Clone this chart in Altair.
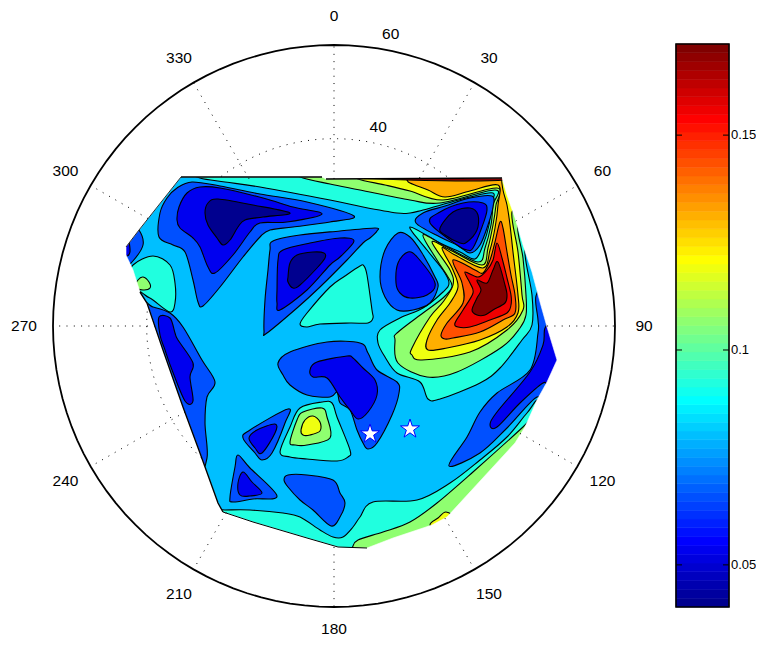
import altair as alt
import pandas as pd

# ---- polar grid -------------------------------------------------------
POLE = (334.0, 326.0)
UNIT = 281.0 / 60.0          # sheet units per radial unit
spoke_deg = [0, 30, 60, 90, 120, 150, 180, 210, 240, 270, 300, 330]
spoke_visible_from = [31.4, 36.5, 44.8, 45.5, 45.9, 47.4, 47.2, 46.0, 36.7, 38.2, 45.9, 36.3]
ring_arcs = [(-37, 37), (225, 276)]
outer_r = 60
angle_label_r = [66.2, 66.2, 66.2, 66.2, 66.2, 66.2, 64.8, 66.2, 66.2, 66.2, 66.2, 66.2]
radial_labels = [("40", 43.6, 12.5), ("60", 63.5, 11.0)]

# ---- colour bar -------------------------------------------------------
jet = ["#00008F","#00009F","#0000AF","#0000BF","#0000CF","#0000DF","#0000EF","#0000FF",
       "#0010FF","#0020FF","#0030FF","#0040FF","#0050FF","#0060FF","#0070FF","#0080FF",
       "#008FFF","#009FFF","#00AFFF","#00BFFF","#00CFFF","#00DFFF","#00EFFF","#00FFFF",
       "#10FFEF","#20FFDF","#30FFCF","#40FFBF","#50FFAF","#60FF9F","#70FF8F","#80FF80",
       "#8FFF70","#9FFF60","#AFFF50","#BFFF40","#CFFF30","#DFFF20","#EFFF10","#FFFF00",
       "#FFEF00","#FFDF00","#FFCF00","#FFBF00","#FFAF00","#FF9F00","#FF8F00","#FF8000",
       "#FF7000","#FF6000","#FF5000","#FF4000","#FF3000","#FF2000","#FF1000","#FF0000",
       "#EF0000","#DF0000","#CF0000","#BF0000","#AF0000","#9F0000","#8F0000","#800000"]
cb_min, cb_max = 0.0402, 0.1712
cb_ticks = [0.05, 0.1, 0.15]
cb_x = (676, 729)
cb_y = (607, 44)
cb_tick_len = 6

# ---- contour levels (value, colour) -----------------------------------
levels = [0.041, 0.053, 0.066, 0.080, 0.092, 0.107, 0.120, 0.132, 0.145, 0.157, 0.171]
level_colors = ["#00008F", "#0000EF", "#0050FF", "#00BFFF", "#20FFDF", "#8FFF70",
                "#EFFF10", "#FFAF00", "#FF5000", "#EF0000", "#800000"]

domain_outline = [(181,177),(322,177),(326,179),(502,178),(507,195),(515,218),(523,245),(532,272),(540,302),
    (547,327),(557,360),(547,382),(537,400),(525,427),(515,443),(447,517),(432,525),
    (393,538),(367,548),(350,548),(338,547),(307,538),(253,522),(223,512),(218,503),
    (200,453),(183,407),(163,350),(147,303),(140,292),(133,270),(126,255),(126,247),(139,230)]
sheet_rect = [(50,100),(620,100),(620,600),(50,600)]
edge_top_a = [(181,177),(322,177)]
edge_top_b = [(326,179),(502,178)]
edge_upper_left = [(126,247),(139,230),(181,177)]
edge_lower_left = [(140,292),(147,303),(163,350),(183,407),(200,453),(218,503),(223,512)]
edge_bottom = [(223,512),(253,522),(307,538),(338,547),(367,548)]

base_fill = [(110,160),(340,160),(575,160),(575,360),(575,565),(340,565),(110,565),(110,360)]

bottom_cyan = [(540,400),(550,430),(460,535),(350,565),(250,540),(205,525),(212,510),(225,510),(250,510),(283,513),
    (300,517),(320,530),(333,537),(343,537),(353,527),(360,517),(373,502),(417,500),(450,483),(480,460),(507,437),(527,413)]
bottom_green = [(352,548),(358,540),(383,532),(410,522),(437,503),(473,472),(523,427),(535,415),(545,430),(460,535),
    (400,555),(345,560)]
bottom_yellow = [(430,525),(438,518),(446,512),(455,520),(440,535)]

high_cyan = [(260,187),(225,182),(200,178),(185,170),(190,160),(525,160),(540,248),(525,250),(532,295),(532,325),
    (522,340),(500,368),(480,383),(440,399),(428,399),(420,382),(397,373),(385,357),(378,343),(380,330),(400,318),
    (423,308),(443,292),(449,283),(443,270),(427,250),(410,227),(440,243),(460,252),(475,259),(483,245),(489,225),
    (491,205),(493,193),(470,197),(423,210),(410,213),(397,213),(363,207),(330,200)]
high_green = [(360,190),(330,184),(303,178),(295,172),(300,160),(525,160),(535,222),(518,225),(523,258),(526,295),(526,315),
    (520,328),(502,347),(457,372),(427,377),(398,363),(395,340),(397,333),(423,313),(443,298),(452,287),(448,277),(437,260),(423,235),
    (445,246),(478,262),(485,248),(491,225),(493,205),(495,190),(440,203),(410,200)]
high_yellow = [(410,191),(385,185),(358,179),(350,172),(355,160),(525,160),(528,210),(512,212),(518,252),(522,295),(523,310),
    (507,330),(470,352),(422,360),(412,355),(412,348),(430,317),(443,302),(453,285),(450,270),(432,242),(452,251),(482,265),(488,248),
    (493,225),(496,205),(497,188),(443,200)]
high_orange = [(410,183),(407,180),(400,173),(405,160),(510,160),(502,175),(503,190),(507,205),(510,225),(513,252),(518,295),(518,313),
    (507,327),(480,340),(447,348),(428,350),(427,340),(437,320),(450,303),(458,287),(453,270),(442,248),(455,255),(483,268),(490,250),(495,228),(498,205),
    (498,185),(470,191),(445,197),(428,190)]
high_5000 = [(441,335),(447,323),(463,303),(462,283),(453,260),(475,270),(483,273),(490,260),(495,242),(500,222),
    (503,228),(507,252),(511,275),(515,295),(515,313),(503,320),(480,332),(453,338),(445,339)]
high_red = [(455,323),(463,310),(473,293),(470,283),(465,272),(478,277),(487,270),(493,260),(497,243),(502,258),
    (507,278),(511,295),(511,305),(507,313),(490,320),(470,327),(458,327)]
high_darkred = [(472,310),(477,298),(481,290),(477,280),(487,283),(493,270),(498,262),(505,285),(507,295),(505,303),
    (493,310),(485,315),(477,315)]
top_sliver = [(326,175),(505,172),(505,180),(408,180)]

hole_mid = [(416,223),(423,213),(445,206),(470,198),(492,196),(493,207),(488,225),(480,245),(470,253),(457,245),(440,237)]
hole_blue = [(430,223),(440,212),(463,203),(483,203),(487,210),(482,227),(473,248),(467,250),(457,245)]
hole_navy = [(440,228),(453,212),(470,208),(478,215),(477,230),(467,242),(460,243),(445,235)]

tl_mid = [(159,237),(160,213),(167,198),(177,188),(192,182),(220,186),(260,194),(307,202),(354,216),(330,222),(293,227),
    (270,230),(260,237),(243,257),(220,287),(203,306),(198,302),(193,280),(185,252),(173,245)]
tl_blue = [(177,220),(179,207),(187,193),(200,187),(220,188),(263,198),(293,207),(322,214),(287,222),(260,223),(250,232),
    (233,255),(215,273),(208,267),(200,247),(193,238),(180,228)]
tl_navy = [(205,213),(208,203),(218,199),(253,205),(290,213),(263,217),(245,220),(238,227),(230,240),(223,245),(217,238),(208,225)]

mid2_mid = [(270,250),(273,241),(300,235),(340,231),(375,228),(377,231),(370,238),(363,243),(347,260),(320,287),(297,308),
    (267,333),(264,331),(265,300),(268,270)]
mid2_blue = [(277,290),(278,260),(283,250),(310,243),(340,238),(354,241),(340,257),(330,265),(307,290),(280,310),(277,303)]
mid2_navy = [(288,277),(290,263),(297,255),(313,252),(324,253),(325,258),(317,268),(300,285),(293,288),(288,282)]
tri_cyan = [(300,324),(307,313),(330,287),(345,276),(360,266),(364,266),(367,275),(372,310),(373,318),(368,323),(350,323),
    (320,324),(307,327)]

left_cyan = [(133,265),(153,256),(170,265),(175,283),(175,303),(170,312),(153,300),(145,295),(128,280)]
left_green = [(138,280),(143,277),(149,282),(150,288),(143,290),(135,287)]
edge_mid = [(139,230),(143,245),(132,262),(125,265),(115,250),(130,225)]
edge_blue = [(127,244),(129,242),(130,252),(127,256),(115,255),(118,240)]
left_mid = [(153,307),(170,313),(183,327),(202,360),(215,382),(207,397),(205,423),(207,458),(195,465),(150,380),(140,305)]
left_blue = [(159,317),(170,318),(175,333),(178,340),(193,363),(190,377),(193,401),(185,401),(172,370),(165,350),(160,335)]

right_mid = [(449,466),(467,437),(480,412),(497,393),(530,370),(538,333),(538,320),(536,296),(548,290),(575,360),(545,410),
    (537,397),(507,428),(480,453)]
right_blue = [(490,425),(497,412),(530,372),(543,345),(545,328),(555,322),(575,360),(550,385),(543,383),(520,403),(497,427)]

ctr_mid = [(278,363),(290,352),(327,342),(360,343),(368,353),(377,370),(397,382),(399,393),(392,415),(377,443),(368,449),
    (363,443),(357,430),(350,410),(340,403),(337,392),(330,397),(307,395),(290,385),(283,375)]
ctr_blue = [(310,370),(317,362),(347,356),(353,358),(363,368),(375,380),(377,395),(368,412),(358,419),(350,410),(340,397),
    (327,378),(313,377)]
hump_cyan = [(280,452),(290,427),(300,408),(322,402),(332,403),(337,417),(350,450),(348,457),(337,461),(307,459),(290,457)]
hump_green = [(290,442),(297,420),(303,412),(322,408),(327,417),(330,438),(307,445),(295,445)]
hump_yellow = [(301,430),(305,420),(313,416),(320,422),(320,431),(310,435),(303,435)]
tri1_mid = [(243,438),(250,430),(288,409),(285,423),(272,453),(262,460),(255,453)]
tri1_blue = [(249,438),(257,430),(275,424),(275,433),(262,453),(255,448)]
tri2_mid = [(238,455),(250,468),(277,496),(253,499),(233,502),(230,497),(235,467)]
tri2_blue = [(243,472),(252,482),(262,493),(250,496),(240,495),(238,483)]
low_mid = [(284,480),(288,475),(307,475),(333,480),(340,493),(345,503),(340,517),(331,526),(313,510),(300,500),(288,487)]
well_mid = [(380,277),(385,250),(398,233),(410,237),(422,253),(435,277),(438,287),(430,303),(413,310),(397,310),(385,297)]
well_blue = [(396,283),(398,263),(408,252),(418,258),(435,283),(427,295),(410,298),(400,293)]

contours = [
    (3, base_fill), (4, bottom_cyan), (5, bottom_green), (6, bottom_yellow),
    (4, high_cyan), (5, high_green), (6, high_yellow), (7, high_orange), (8, high_5000), (9, high_red),
    (10, high_darkred), (10, top_sliver),
    (2, hole_mid), (1, hole_blue), (0, hole_navy),
    (2, tl_mid), (1, tl_blue), (0, tl_navy),
    (2, mid2_mid), (1, mid2_blue), (0, mid2_navy), (4, tri_cyan),
    (4, left_cyan), (5, left_green), (2, edge_mid), (1, edge_blue), (2, left_mid), (1, left_blue),
    (2, right_mid), (1, right_blue),
    (2, ctr_mid), (1, ctr_blue), (4, hump_cyan), (5, hump_green), (6, hump_yellow),
    (2, tri1_mid), (1, tri1_blue), (2, tri2_mid), (1, tri2_blue), (2, low_mid),
    (2, well_mid), (1, well_blue),
]

star_x = [370, 410]
star_y = [434, 429]
STAR = ("M0,-1L0.225,-0.309L0.951,-0.309L0.363,0.118L0.588,0.809L0,0.382"
        "L-0.588,0.809L-0.363,0.118L-0.951,-0.309L-0.225,-0.309Z")

# ---- tables -----------------------------------------------------------
rows = []
for pid, (lev, pts) in enumerate(contours):
    for i, p in enumerate(pts):
        rows.append({"poly": f"{pid:03d}", "i": i, "x": p[0], "y": p[1], "level": levels[lev]})
poly_df = pd.DataFrame(rows)

W, H = 748, 630
X = alt.Scale(domain=[8, 8 + W], range=[0, W])
Y = alt.Scale(domain=[8 + H, 8], range=[H, 0])
xq = lambda f: alt.X(f, type="quantitative", scale=X, axis=None)
yq = lambda f: alt.Y(f, type="quantitative", scale=Y, axis=None)

def polar(ch):
    return ch.transform_calculate(
        px=f"{POLE[0]} + {UNIT}*datum.r*sin(datum.a*PI/180)",
        py=f"{POLE[1]} - {UNIT}*datum.r*cos(datum.a*PI/180)")

fills = alt.Chart(poly_df).mark_line(interpolate="cardinal-closed", tension=0.0, stroke="#000", strokeWidth=1.1,
                                     strokeJoin="round").encode(
    x=xq("x"), y=yq("y"), detail="poly:N", order="i:Q",
    fill=alt.Fill("level:O", scale=alt.Scale(domain=levels, range=level_colors), legend=None))

# white sheet with the data domain cut out, so that the contours end at the domain's edge
bridge = (50, 177)
keyhole = sheet_rect + [bridge, domain_outline[0]] + domain_outline[:0:-1] + [domain_outline[0], bridge]
mask_df = pd.DataFrame({"x": [p[0] for p in keyhole], "y": [p[1] for p in keyhole], "i": range(len(keyhole))})
mask = alt.Chart(mask_df).mark_line(interpolate="linear-closed", fill="#ffffff", stroke="#ffffff", strokeWidth=0.6).encode(
    x=xq("x"), y=yq("y"), order="i:Q")

edges = [("a", edge_top_a, 1.4), ("b", edge_top_b, 1.6), ("c", edge_upper_left, 0.8), ("d", edge_lower_left, 1.4), ("e", edge_bottom, 1.0)]
edge_df = pd.DataFrame([{"k": k, "i": i, "x": p[0], "y": p[1], "w": w} for k, pts, w in edges for i, p in enumerate(pts)])
edge_l = alt.Chart(edge_df).mark_line(color="#000").encode(
    x=xq("x"), y=yq("y"), detail="k:N", order="i:Q",
    strokeWidth=alt.StrokeWidth("w:Q", scale=None))

spokes = pd.DataFrame([{"a": a, "r": r, "k": a} for a, r0 in zip(spoke_deg, spoke_visible_from) for r in (r0, 60)])
spoke_l = polar(alt.Chart(spokes).mark_line(color="#000", strokeWidth=1, strokeDash=[1, 6.3])).encode(
    x=xq("px"), y=yq("py"), detail="k:N", order="r:Q")
rings = pd.DataFrame([{"a": a, "r": 40, "k": str(lo)} for lo, hi in ring_arcs for a in range(lo, hi + 1, 2)])
ring_l = polar(alt.Chart(rings).mark_line(color="#000", strokeWidth=1, strokeDash=[1, 6.3])).encode(
    x=xq("px"), y=yq("py"), detail="k:N", order="a:Q")
outer = pd.DataFrame([{"a": a, "r": outer_r} for a in range(0, 361, 3)])
outer_l = polar(alt.Chart(outer).mark_line(color="#000", strokeWidth=1.8)).encode(
    x=xq("px"), y=yq("py"), order="a:Q")

ang_df = pd.DataFrame({"a": spoke_deg, "r": angle_label_r, "t": [str(a) for a in spoke_deg]})
TXT = dict(font="Liberation Sans", fontSize=15.5, color="#000")
ang_l = polar(alt.Chart(ang_df).mark_text(align="center", baseline="middle", **TXT)).encode(
    x=xq("px"), y=yq("py"), text="t:N")
rad_df = pd.DataFrame([{"t": t, "r": r, "a": a} for t, r, a in radial_labels])
rad_l = polar(alt.Chart(rad_df).mark_text(align="center", baseline="middle", **TXT)).encode(
    x=xq("px"), y=yq("py"), text="t:N")

star_l = alt.Chart(pd.DataFrame({"x": star_x, "y": star_y})).mark_point(
    shape=STAR, size=400, filled=True, fill="#fff", stroke="#0000FF", strokeWidth=1, opacity=1).encode(
    x=xq("x"), y=yq("y"))

# colour bar on its own value scale
CB = alt.Scale(domain=[cb_min, cb_max], range=[cb_y[0] - 8, cb_y[1] - 8])
ybar = lambda f: alt.Y(f, type="quantitative", scale=CB, axis=None)
step = (cb_max - cb_min) / len(jet)
bar_df = pd.DataFrame({"lo": [cb_min + i * step for i in range(len(jet))],
                       "hi": [cb_min + (i + 1) * step for i in range(len(jet))],
                       "c": jet, "x0": cb_x[0], "x1": cb_x[1]})
bar = alt.Chart(bar_df).mark_rect(strokeWidth=0.6).encode(
    x=xq("x0"), x2="x1:Q", y=ybar("lo"), y2="hi:Q", fill=alt.Fill("c:N", scale=None),
    stroke=alt.Stroke("c:N", scale=None))
frame = alt.Chart(pd.DataFrame({"x0": [cb_x[0]], "x1": [cb_x[1]], "lo": [cb_min], "hi": [cb_max]})).mark_rect(
    fill=None, stroke="#000", strokeWidth=1.6).encode(x=xq("x0"), x2="x1:Q", y=ybar("lo"), y2="hi:Q")
tick_df = pd.DataFrame([{"v": v, "x0": a, "x1": b} for v in cb_ticks
                        for a, b in ((cb_x[0], cb_x[0] + cb_tick_len), (cb_x[1] - cb_tick_len, cb_x[1]))])
ticks = alt.Chart(tick_df).mark_rule(color="#000", strokeWidth=1).encode(x=xq("x0"), x2="x1:Q", y=ybar("v"))
lab_df = pd.DataFrame({"v": cb_ticks, "t": [f"{v:g}" for v in cb_ticks], "x0": cb_x[1] + 2})
labs = alt.Chart(lab_df).mark_text(align="left", baseline="middle", font="Liberation Sans", fontSize=13, color="#000").encode(
    x=xq("x0"), y=ybar("v"), text="t:N")

chart = alt.layer(fills, mask, edge_l, spoke_l, ring_l, outer_l, ang_l, rad_l, star_l, bar, frame, ticks, labs).resolve_scale(
    y="independent", fill="independent", stroke="independent").properties(
    width=W, height=H, padding=0, autosize=alt.AutoSizeParams(type="none"),
    background="#ffffff").configure_view(stroke=None)

chart.save("out.html", embed_options={"renderer": "svg", "actions": False})
